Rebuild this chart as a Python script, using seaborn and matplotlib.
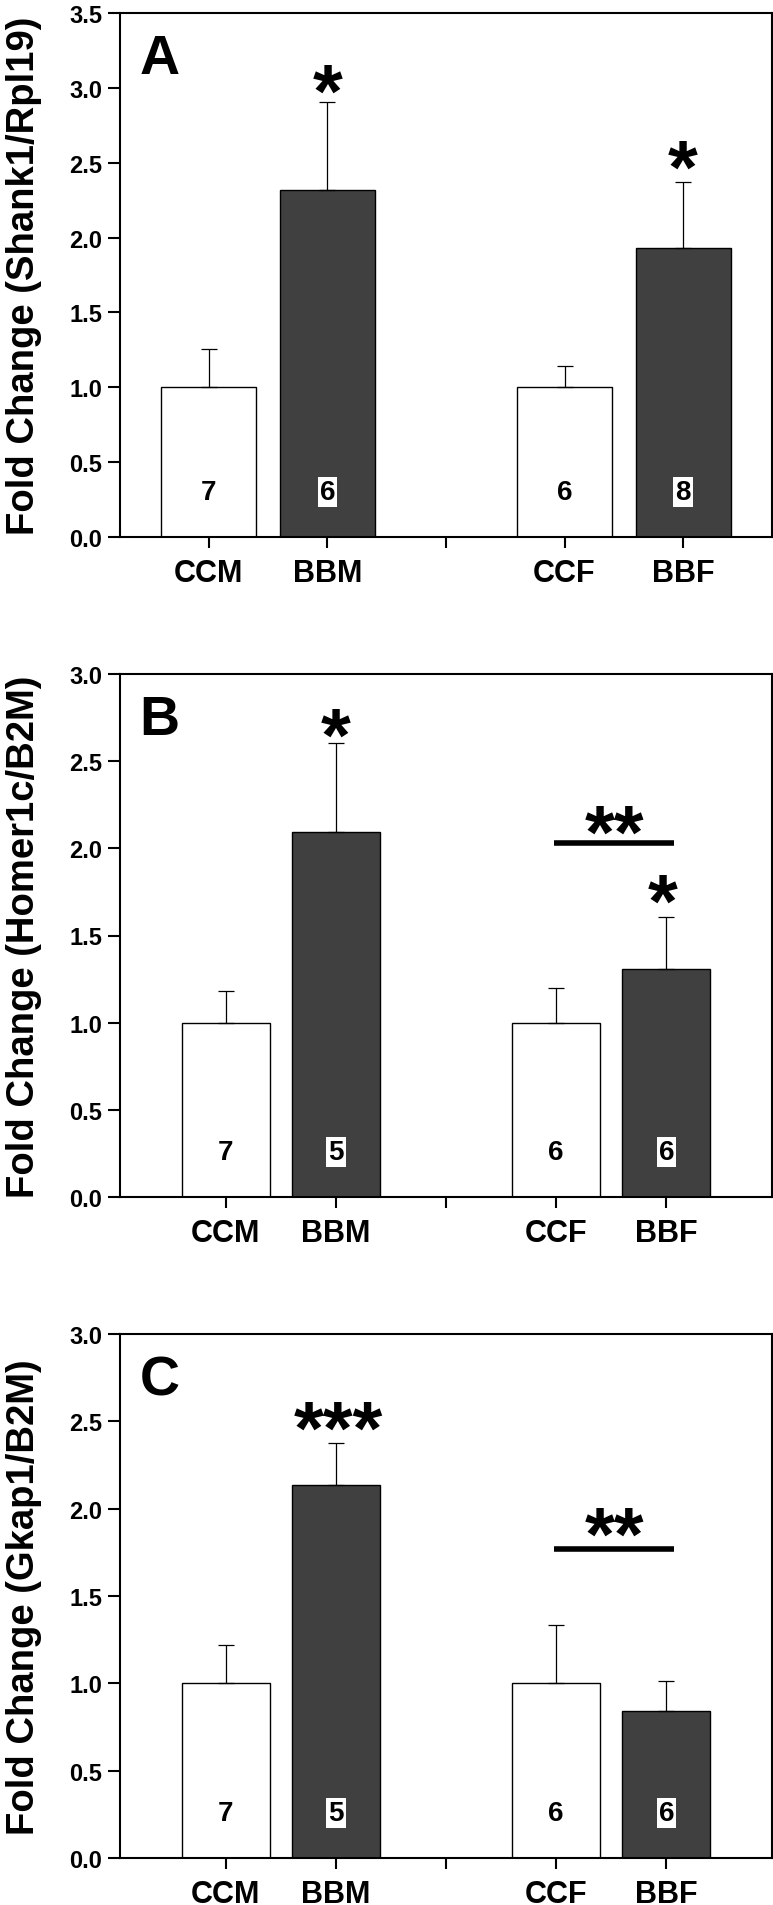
import matplotlib
matplotlib.use("Agg")
import matplotlib.pyplot as plt
import seaborn as sns
import pandas as pd

# groups and slots on the x axis (empty slot between sexes)
groups = ['CCM', 'BBM', 'CCF', 'BBF']
order = ['CCM', 'BBM', '', 'CCF', 'BBF']
bar_colors = {'CCM': 'white', 'BBM': '#404040', 'CCF': 'white', 'BBF': '#404040'}

# panel A - Shank1
shank_mean = [1.0, 2.32, 1.0, 1.93]
shank_sem = [0.258, 0.587, 0.143, 0.442]
shank_n = [7, 6, 6, 8]

# panel B - Homer1c
homer_mean = [1.0, 2.095, 1.0, 1.308]
homer_sem = [0.179, 0.509, 0.20, 0.299]
homer_n = [7, 5, 6, 6]

# panel C - Gkap1
gkap_mean = [1.0, 2.133, 1.0, 0.844]
gkap_sem = [0.222, 0.244, 0.335, 0.170]
gkap_n = [7, 5, 6, 6]

sns.set_theme(style='ticks')
plt.rcParams['font.family'] = ['Liberation Sans', 'DejaVu Sans']
plt.rcParams['font.weight'] = 'bold'
plt.rcParams['text.color'] = 'black'
plt.rcParams['axes.labelcolor'] = 'black'
plt.rcParams['xtick.color'] = 'black'
plt.rcParams['ytick.color'] = 'black'

fig = plt.figure(figsize=(7.73, 19.06), dpi=100)
W, H = 773, 1906


def panel_axes(top_px, bottom_px):
    return fig.add_axes([120 / W, 1 - bottom_px / H, 652 / W, (bottom_px - top_px) / H])


def star(ax, x, y, text, size=55):
    # y is where the middle of the asterisk ink should sit
    ax.annotate(text, xy=(x, y), xytext=(0, -0.56 * size), textcoords='offset points',
                ha='center', va='baseline', fontsize=size, fontweight='bold',
                color='black')


def draw_panel(ax, means, sems, ns, ymax, letter, ylabel, xlim):
    df = pd.DataFrame({'group': groups, 'fold': means})
    sns.barplot(data=df, x='group', y='fold', order=order, hue='group', hue_order=groups,
                palette=bar_colors, width=0.8, edgecolor='black', linewidth=1.0,
                errorbar=None, legend=False, saturation=1, ax=ax)
    xpos = [order.index(g) for g in groups]
    ax.errorbar(xpos, means, yerr=[[0] * len(sems), sems], fmt='none', ecolor='black',
                elinewidth=0.9, capsize=5.5, capthick=0.9, zorder=1)
    for x, n, g in zip(xpos, ns, groups):
        box = None
        if bar_colors[g] != 'white':
            box = dict(facecolor='white', edgecolor='none', pad=1.5)
        ax.annotate(str(n), xy=(x, 0), xytext=(0, 27.5), textcoords='offset points',
                    ha='center', va='baseline', fontsize=20, fontweight='bold',
                    color='black', bbox=box)

    ax.set_xlim(*xlim)
    ax.set_ylim(0, ymax)
    ticks = [i * 0.5 for i in range(int(ymax / 0.5) + 1)]
    ax.set_yticks(ticks)
    ax.set_yticklabels([f'{t:.1f}' for t in ticks])
    ax.set_xlabel('')
    ax.set_ylabel(ylabel, fontsize=27.5, fontweight='bold', color='black')
    ax.yaxis.set_label_coords(-0.12, 0.5)
    for s in ax.spines.values():
        s.set_visible(True)
        s.set_linewidth(1.5)
        s.set_color('black')
    ax.tick_params(axis='y', length=8.5, width=1.5, pad=4.5, labelsize=17, colors='black')
    ax.tick_params(axis='x', length=8, width=1.5, pad=7, labelsize=22, colors='black')
    for lab in ax.get_xticklabels() + ax.get_yticklabels():
        lab.set_fontweight('bold')
    ax.text(0.03, 0.885, letter, transform=ax.transAxes, ha='left', va='baseline',
            fontsize=40, fontweight='bold', color='black')


axA = panel_axes(14, 538)
draw_panel(axA, shank_mean, shank_sem, shank_n, 3.5, 'A',
           'Fold Change (Shank1/Rpl19)', (-0.75, 4.75))
star(axA, 1, 3.10, '*')
star(axA, 4, 2.59, '*')

axB = panel_axes(675, 1198)
draw_panel(axB, homer_mean, homer_sem, homer_n, 3.0, 'B',
           'Fold Change (Homer1c/B2M)', (-0.96, 4.96))
star(axB, 1, 2.755, '*')
star(axB, 3.97, 1.80, '*')
axB.plot([2.985, 4.074], [2.029, 2.029], color='black', lw=4, solid_capstyle='butt')
star(axB, 3.53, 2.20, '**')

axC = panel_axes(1335, 1859)
draw_panel(axC, gkap_mean, gkap_sem, gkap_n, 3.0, 'C',
           'Fold Change (Gkap1/B2M)', (-0.96, 4.96))
star(axC, 1.02, 2.564, '***')
axC.plot([2.985, 4.074], [1.771, 1.771], color='black', lw=4, solid_capstyle='butt')
star(axC, 3.53, 1.96, '**')

fig.savefig('out.png', dpi=100)
